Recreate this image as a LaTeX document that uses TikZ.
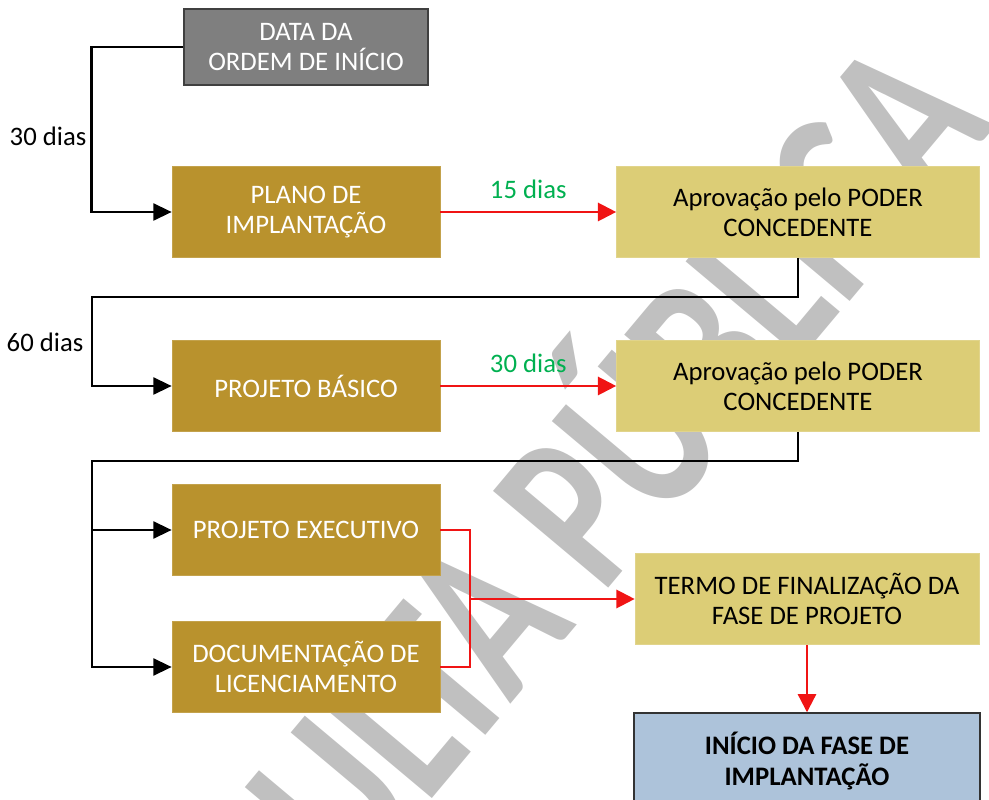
\documentclass[tikz,border=0pt]{standalone}
\usepackage{fontspec}
\setmainfont{Carlito}
\usetikzlibrary{arrows.meta}
\definecolor{ouro}{RGB}{185,146,45}
\definecolor{caqui}{RGB}{220,205,118}
\definecolor{cinza}{RGB}{127,127,127}
\definecolor{azul}{RGB}{173,195,218}
\definecolor{verde}{RGB}{0,176,80}
\definecolor{marca}{RGB}{192,192,192}
\definecolor{vermelho}{RGB}{240,20,20}
\begin{document}
\begin{tikzpicture}[x=0.025cm, y=-0.025cm,
	caixa/.style={rectangle, align=center, inner sep=2pt, minimum width=6.7cm, minimum height=2.275cm, font=\fontsize{19}{21.5}\selectfont},
	etapa/.style={caixa, fill=ouro, draw=ouro!85!white, text=white},
	aprov/.style={caixa, fill=caqui, draw=caqui!85!white, minimum width=9.075cm},
	rotulo/.style={inner sep=1pt, font=\fontsize{19}{21.5}\selectfont},
	linha/.style={line width=1.8pt, -{Triangle[length=13pt, width=12pt]}},
	verm/.style={line width=1.6pt, vermelho, -{Triangle[length=13pt, width=13pt]}}]
	\useasboundingbox (0,0) rectangle (989,800);
	% marca d'agua
	\node[anchor=base east, rotate=50, text=marca, font=\fontsize{165}{165}\selectfont\bfseries] (marcadagua) at (1000,122) {\scalebox{0.74}[1]{CONSULTA PÚBLICA}};
	% caixas
	\node[caixa, fill=cinza, draw=black!75, line width=1pt, text=white, minimum width=6.1cm, minimum height=1.9cm] (data) at (306,47) {DATA DA\\ORDEM DE INÍCIO};
	\node[etapa] (plano) at (306,212) {PLANO DE\\IMPLANTAÇÃO};
	\node[aprov] (aprova) at (798,212) {Aprovação pelo PODER\\CONCEDENTE};
	\node[etapa] (basico) at (306,386) {PROJETO BÁSICO};
	\node[aprov] (aprovb) at (798,386) {Aprovação pelo PODER\\CONCEDENTE};
	\node[etapa] (exec) at (306,530) {PROJETO EXECUTIVO};
	\node[etapa] (doc) at (306,667) {DOCUMENTAÇÃO DE\\LICENCIAMENTO};
	\node[aprov, minimum width=8.6cm] (termo) at (807,599) {TERMO DE FINALIZAÇÃO DA\\FASE DE PROJETO};
	\node[caixa, fill=azul, draw=black!80, line width=1pt, minimum width=8.65cm, minimum height=2.4cm, font=\fontsize{19}{21.5}\selectfont\bfseries] (inicio) at (807,761) {INÍCIO DA FASE DE\\IMPLANTAÇÃO};
	% prazos
	\node[rotulo] (prazo30) at (48,136) {30 dias};
	\node[rotulo] (prazo60) at (45,342) {60 dias};
	% ligacoes
	\coordinate (canto1) at (92,297);
	\coordinate (canto2) at (92,461);
	\coordinate (junta) at (470,599);
	\draw[linha] (data.west) -- ++(-92,0) |- (plano.west);
	\draw[verm] (plano) -- node[above=8pt, rotulo, text=verde] (prazo15) {15 dias} (aprova);
	\draw[linha] (aprova.south) |- (canto1) |- (basico.west);
	\draw[verm] (basico) -- node[above=8pt, rotulo, text=verde] (prazo30b) {30 dias} (aprovb);
	\draw[linha] (aprovb.south) |- (canto2) |- (doc.west);
	\draw[linha] (canto2 |- exec.west) -- (exec.west);
	\draw[verm, -] (exec.east) -| (junta) |- (doc.east);
	\draw[verm] (junta) -- (termo.west);
	\draw[verm] (termo) -- (inicio);
\end{tikzpicture}
\end{document}
